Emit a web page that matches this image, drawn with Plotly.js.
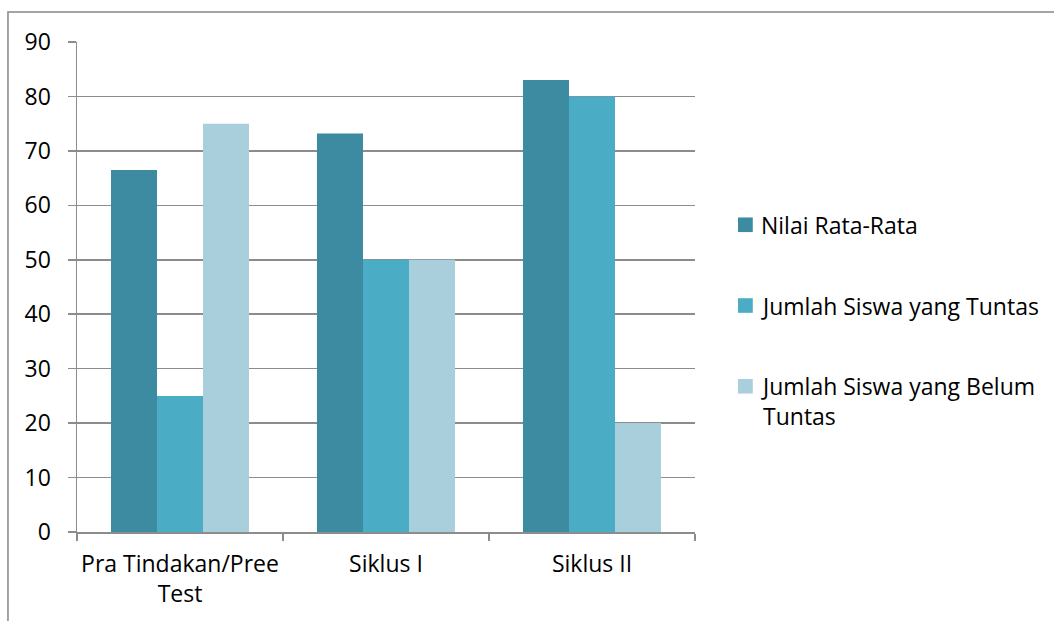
<!DOCTYPE html>
<html>
<head>
<meta charset="utf-8">
<script src="https://cdn.plot.ly/plotly-3.0.1.min.js"></script>
<style>
html,body{margin:0;padding:0;background:#fff;}
#chart{width:1054px;height:621px;}
</style>
</head>
<body>
<div id="chart"></div>
<script>
const categories = ["Pra Tindakan/Pree<br>Test", "Siklus I", "Siklus II"];
const seriesNames = ["Nilai Rata-Rata", "Jumlah Siswa yang Tuntas", "Jumlah Siswa yang Belum<br>Tuntas"];
const nilaiRataRata = [66.5, 73.2, 83];
const jumlahTuntas = [25, 50, 80];
const jumlahBelumTuntas = [75, 50, 20];
const seriesColors = ["#3C8BA1", "#4BACC6", "#A9CFDD"];
const yTicks = [0, 10, 20, 30, 40, 50, 60, 70, 80, 90];

const values = [nilaiRataRata, jumlahTuntas, jumlahBelumTuntas];
const traces = values.map((v, i) => ({
  type: "bar",
  x: categories,
  y: v,
  name: seriesNames[i],
  showlegend: false,
  marker: {color: seriesColors[i], line: {width: 0}},
  hoverinfo: "x+y+name"
}));

const fam = "'Open Sans', 'Noto Sans', sans-serif";
const font = {family: fam, size: 23, color: "#000"};

// Legend drawn as layout shapes + annotations (paper coordinates)
const plotH = 490;
const shapes = [{
  type: "rect", xref: "paper", yref: "paper", layer: "below",
  x0: -0.1117, x1: 1.6, y0: -0.3, y1: 1.0612,
  line: {color: "#878787", width: 1.5}, fillcolor: "rgba(0,0,0,0)"
}];
const annotations = [];
const firstCenter = 0.627;
const step = 0.1648;
const half = 7.3 / plotH;
seriesNames.forEach((nm, i) => {
  const yc = firstCenter - i * step;
  shapes.push({
    type: "rect", xref: "paper", yref: "paper",
    x0: 1.0696, x1: 1.0935, y0: yc - half, y1: yc + half,
    line: {width: 0}, fillcolor: seriesColors[i]
  });
  annotations.push({
    xref: "paper", yref: "paper", x: 1.1045, y: yc, xanchor: "left", yanchor: "top",
    yshift: 17, text: nm, showarrow: false, align: "left",
    font: font, borderpad: 0
  });
});

const layout = {
  width: 1054, height: 621,
  margin: {l: 77, r: 359, t: 42, b: 89, pad: 0},
  paper_bgcolor: "#fff", plot_bgcolor: "#fff",
  font: font,
  barmode: "group",
  bargap: 0.33,
  bargroupgap: 0,
  showlegend: false,
  xaxis: {
    type: "category",
    showgrid: false,
    showline: true, linecolor: "#8C8C8C", linewidth: 1.5,
    ticks: "outside", tickson: "boundaries", ticklen: 7, tickcolor: "#8C8C8C", tickwidth: 1.5,
    tickfont: font, ticklabelstandoff: 11, tickangle: 0,
    fixedrange: true
  },
  yaxis: {
    range: [0, 90],
    tickvals: yTicks,
    showgrid: true, gridcolor: "#8C8C8C", gridwidth: 1.5,
    showline: true, linecolor: "#8C8C8C", linewidth: 1.5,
    ticks: "outside", ticklen: 8, tickcolor: "#8C8C8C", tickwidth: 1.5,
    tickfont: font, ticklabelstandoff: 12,
    zeroline: false,
    fixedrange: true
  },
  shapes: shapes,
  annotations: annotations
};

Plotly.newPlot("chart", traces, layout, {displayModeBar: false, staticPlot: true});
</script>
</body>
</html>
